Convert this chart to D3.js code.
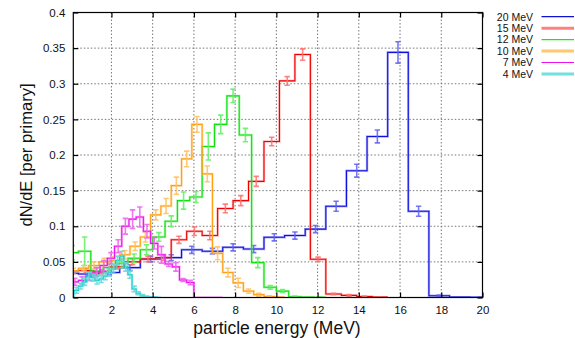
<!DOCTYPE html>
<html><head><meta charset="utf-8">
<script src="https://cdn.jsdelivr.net/npm/d3@7"></script>
<style>
html,body{margin:0;padding:0;background:#fff;}
svg{display:block;font-family:"Liberation Sans",Arial,Helvetica,sans-serif;}
</style></head>
<body><div id="chart"></div>
<script>
// ---- data ----
const seriesLabels = ["20 MeV", "15 MeV", "12 MeV", "10 MeV", "7 MeV", "4 MeV"];
const binWidths   = [1.0, 0.75, 0.6, 0.5, 0.35, 0.2];
const firstCenters = [-0.1, 0.025, 0.1, 0.15, 0.225, 0.1];

const values20 = [0.034,0.033,0.035,0.042,0.054,0.056,0.067,0.065,0.0705,0.068,0.0845,0.087,0.096,0.128,0.178,0.226,0.344,0.121,0.0025,0.0005,0.0003];
const errors20 = [0.003,0.003,0.003,0.004,0.004,0.004,0.005,0.004,0.005,0.005,0.005,0.005,0.005,0.007,0.009,0.009,0.015,0.007,0.001,0.0005,0.0003];

const values15 = [0.037,0.038,0.036,0.043,0.050,0.054,0.056,0.081,0.093,0.087,0.125,0.136,0.163,0.219,0.304,0.341,0.0536,0.005,0.003,0.0015,0.0005];
const errors15 = [0.003,0.003,0.003,0.003,0.004,0.004,0.004,0.005,0.006,0.006,0.006,0.007,0.007,0.006,0.006,0.008,0.003,0.001,0.001,0.0005,0.0003];

const values12 = [0.063,0.065,0.037,0.042,0.048,0.055,0.067,0.085,0.107,0.136,0.141,0.212,0.243,0.283,0.228,0.049,0.0143,0.009,0.001,0.0005,0.0002];
const errors12 = [0.01,0.02,0.005,0.005,0.006,0.006,0.007,0.006,0.0075,0.012,0.0077,0.019,0.013,0.0094,0.0094,0.007,0.0026,0.002,0.001,0.0005,0.0002];

const values10 = [0.037,0.041,0.045,0.05,0.052,0.06,0.072,0.085,0.116,0.1285,0.157,0.1945,0.243,0.1735,0.062,0.035,0.0205,0.009,0.004,0.0015,0.0005];
const errors10 = [0.004,0.004,0.005,0.005,0.005,0.006,0.006,0.007,0.007,0.0105,0.012,0.011,0.011,0.011,0.009,0.006,0.0065,0.003,0.002,0.001,0.0005];

const values7 = [0.022,0.024,0.03,0.036,0.045,0.055,0.072,0.1,0.11,0.113,0.093,0.076,0.06,0.047,0.043,0.0245,0.021,0,0,0,0];
const errors7 = [0.005,0.005,0.006,0.006,0.007,0.008,0.009,0.011,0.013,0.014,0.0094,0.008,0.0117,0.0035,0.006,0.002,0.003,0,0,0,0];

const values4 = [0.005,0.01,0.016,0.022,0.03,0.028,0.024,0.026,0.03,0.035,0.04,0.052,0.058,0.043,0.032,0.012,0.006,0.003,0.001,0.0005,0.0003,0];
const errors4 = [0.003,0.004,0.004,0.005,0.005,0.005,0.005,0.005,0.005,0.005,0.006,0.006,0.007,0.006,0.005,0.004,0.002,0.001,0.001,0.0005,0.0003,0];

const xTicks = [2,4,6,8,10,12,14,16,18,20];
const yTicks = [0,0.05,0.1,0.15,0.2,0.25,0.3,0.35,0.4];

const allValues = [values20, values15, values12, values10, values7, values4];
const allErrors = [errors20, errors15, errors12, errors10, errors7, errors4];

// ---- styles ----
const lineColors = ["#1010e0", "#ee0000", "#10e010", "#ffa010", "#ee10ee", "#10c8c8"];
const paleColors = ["#6060f0", "#ff7070", "#60f060", "#ffc060", "#f060f0", "#60dada"];
const legendColors = ["#1010d0", "#ff8080", "#10ee10", "#ffc870", "#ee10ee", "#70e0e0"];
const legendWidths = [1.2, 3, 1.2, 3, 1.2, 3];

const W = 575, H = 338;
const L = 73.3, R = 482.5, T = 12.5, B = 297.5;

const svg = d3.select("#chart").append("svg").attr("width", W).attr("height", H);

const x = d3.scaleLinear().domain([0.15, 20]).range([L, R]);
const y = d3.scaleLinear().domain([0, 0.4]).range([B, T]);

svg.append("defs").append("clipPath").attr("id","clip")
  .append("rect").attr("x", L).attr("y", T).attr("width", R-L).attr("height", B-T);

// grid
const grid = svg.append("g");
grid.selectAll("line.gx").data(xTicks.filter(d => d < 20)).join("line")
  .attr("x1", d => x(d)).attr("x2", d => x(d)).attr("y1", T).attr("y2", B)
  .attr("stroke", "#777").attr("stroke-width", 1).attr("stroke-dasharray", "1.5,2");
grid.selectAll("line.gy").data(yTicks.filter(d => d > 0 && d < 0.4)).join("line")
  .attr("x1", L).attr("x2", R).attr("y1", d => y(d)).attr("y2", d => y(d))
  .attr("stroke", "#777").attr("stroke-width", 1).attr("stroke-dasharray", "1.5,2");

// data
const plot = svg.append("g").attr("clip-path", "url(#clip)");
const line = d3.line().x(d => x(d[0])).y(d => y(d[1])).curve(d3.curveStepAfter);

allValues.forEach((vals, s) => {
  const w = binWidths[s];
  const c0 = firstCenters[s];
  const pts = vals.map((v, i) => [c0 + i * w - w / 2, v]);
  pts.push([c0 + (vals.length - 1) * w + w / 2, vals[vals.length - 1]]);
  const g = plot.append("g");
  g.append("path").datum(pts).attr("d", line).attr("fill", "none")
    .attr("stroke", paleColors[s]).attr("stroke-width", 2.4).attr("stroke-opacity", 0.5);
  g.append("path").datum(pts).attr("d", line).attr("fill", "none")
    .attr("stroke", lineColors[s]).attr("stroke-width", 1.1);
  const errs = allErrors[s];
  const eb = vals.map((v, i) => ({c: c0 + i * w, v: v, e: errs[i]})).filter(d => d.v > 0);
  const eg = g.append("g").attr("stroke", paleColors[s]).attr("stroke-width", 1.6).attr("stroke-opacity", 0.85);
  eg.selectAll("line.v").data(eb).join("line")
    .attr("x1", d => x(d.c)).attr("x2", d => x(d.c))
    .attr("y1", d => y(d.v - d.e)).attr("y2", d => y(d.v + d.e));
  eg.selectAll("line.t").data(eb).join("line")
    .attr("x1", d => x(d.c) - 2.7).attr("x2", d => x(d.c) + 2.7)
    .attr("y1", d => y(d.v + d.e)).attr("y2", d => y(d.v + d.e));
  eg.selectAll("line.b").data(eb).join("line")
    .attr("x1", d => x(d.c) - 2.7).attr("x2", d => x(d.c) + 2.7)
    .attr("y1", d => y(d.v - d.e)).attr("y2", d => y(d.v - d.e));
});

// frame and ticks
svg.append("rect").attr("x", L).attr("y", T).attr("width", R-L).attr("height", B-T)
  .attr("fill", "none").attr("stroke", "#000").attr("stroke-width", 1.2);

const tickLen = 5;
const axB = svg.append("g").attr("transform", `translate(0,${B})`)
  .call(d3.axisBottom(x).tickValues(xTicks).tickSizeInner(-tickLen).tickSizeOuter(0).tickPadding(8).tickFormat(d3.format("d")));
const axT = svg.append("g").attr("transform", `translate(0,${T})`)
  .call(d3.axisTop(x).tickValues(xTicks).tickSizeInner(-tickLen).tickSizeOuter(0).tickFormat(""));
const axL = svg.append("g").attr("transform", `translate(${L},0)`)
  .call(d3.axisLeft(y).tickValues(yTicks).tickSizeInner(-tickLen).tickSizeOuter(0).tickPadding(8).tickFormat(d => d === 0 ? "0" : d3.format("")(+d.toFixed(2))));
const axR = svg.append("g").attr("transform", `translate(${R},0)`)
  .call(d3.axisRight(y).tickValues(yTicks).tickSizeInner(-tickLen).tickSizeOuter(0).tickFormat(""));
[axB, axT, axL, axR].forEach(a => {
  a.select(".domain").remove();
  a.selectAll(".tick line").attr("stroke", "#000").attr("stroke-width", 1.2);
  a.selectAll("text").attr("font-family", "Liberation Sans, Arial, sans-serif").attr("font-size", 11.5).attr("fill", "#111");
});

// axis titles
svg.append("text").attr("x", 277).attr("y", 334).attr("text-anchor", "middle")
  .attr("font-size", 17.5).attr("fill", "#111").text("particle energy (MeV)");
svg.append("text").attr("transform", "translate(32,155) rotate(-90)").attr("text-anchor", "middle")
  .attr("font-size", 16.5).attr("fill", "#111").text("dN/dE [per primary]");

// legend
const lg = svg.append("g");
seriesLabels.forEach((lab, i) => {
  const yy = 16.7 + i * 11.45;
  lg.append("text").attr("x", 533).attr("y", yy + 3.8).attr("text-anchor", "end")
    .attr("font-size", 10.5).attr("fill", "#111").text(lab);
  lg.append("line").attr("x1", 541.5).attr("x2", 574).attr("y1", yy).attr("y2", yy)
    .attr("stroke", legendColors[i]).attr("stroke-width", legendWidths[i]);
});
</script>
</body></html>
